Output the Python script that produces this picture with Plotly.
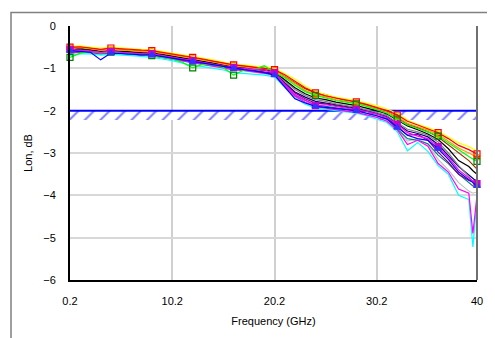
import plotly.graph_objects as go

freq = [0.2, 1.2, 2.2, 3.2, 4.2, 5.2, 6.2, 7.2, 8.2, 9.2, 10.2, 11.2, 12.2, 13.2, 14.2, 15.2,
        16.2, 17.2, 18.2, 19.2, 20.2, 21.2, 22.2, 23.2, 24.2, 25.2, 26.2, 27.2, 28.2, 29.2,
        30.2, 31.2, 32.2, 33.2, 34.2, 35.2, 36.2, 37.2, 38.2, 39.2, 39.6, 40.0]

s_yellow = [-0.48,-0.47,-0.50,-0.52,-0.50,-0.52,-0.54,-0.55,-0.56,-0.60,-0.63,-0.68,-0.72,-0.76,-0.80,-0.85,-0.90,-0.92,-0.95,-0.96,-1.00,-1.12,-1.25,-1.42,-1.55,-1.62,-1.68,-1.72,-1.76,-1.82,-1.88,-1.96,-2.06,-2.22,-2.32,-2.40,-2.48,-2.62,-2.76,-2.85,-2.90,-2.95]
s_red = [-0.50,-0.49,-0.52,-0.55,-0.52,-0.54,-0.56,-0.57,-0.58,-0.62,-0.65,-0.70,-0.74,-0.78,-0.83,-0.87,-0.92,-0.94,-0.97,-0.99,-1.03,-1.15,-1.30,-1.46,-1.58,-1.65,-1.70,-1.74,-1.79,-1.85,-1.92,-2.00,-2.10,-2.25,-2.34,-2.43,-2.52,-2.66,-2.82,-2.92,-2.98,-3.02]
s_orange = [-0.53,-0.51,-0.54,-0.57,-0.55,-0.56,-0.58,-0.60,-0.61,-0.64,-0.68,-0.72,-0.77,-0.80,-0.85,-0.90,-0.94,-0.96,-1.00,-1.01,-1.05,-1.20,-1.36,-1.52,-1.62,-1.68,-1.74,-1.78,-1.82,-1.88,-1.95,-2.03,-2.14,-2.30,-2.38,-2.46,-2.56,-2.72,-2.88,-3.00,-3.05,-3.10]
s_black = [-0.56,-0.53,-0.56,-0.60,-0.58,-0.59,-0.61,-0.63,-0.64,-0.67,-0.71,-0.75,-0.80,-0.83,-0.88,-0.92,-0.97,-0.99,-1.02,-1.04,-1.08,-1.28,-1.46,-1.60,-1.70,-1.74,-1.80,-1.84,-1.88,-1.94,-2.00,-2.08,-2.22,-2.36,-2.45,-2.55,-2.68,-2.90,-3.18,-3.32,-3.42,-3.50]
s_green = [-0.74,-0.64,-0.60,-0.63,-0.62,-0.63,-0.66,-0.68,-0.70,-0.74,-0.78,-0.86,-0.99,-0.90,-0.92,-0.98,-1.16,-1.04,-1.03,-0.94,-1.10,-1.22,-1.40,-1.55,-1.64,-1.70,-1.76,-1.80,-1.84,-1.90,-1.98,-2.06,-2.20,-2.34,-2.42,-2.50,-2.60,-2.76,-2.94,-3.08,-3.14,-3.20]
s_blue = [-0.58,-0.60,-0.62,-0.80,-0.64,-0.65,-0.67,-0.68,-0.68,-0.72,-0.76,-0.80,-0.84,-0.88,-0.92,-0.96,-1.00,-1.03,-1.06,-1.10,-1.16,-1.45,-1.72,-1.82,-1.90,-1.92,-1.95,-1.98,-2.00,-2.06,-2.12,-2.20,-2.40,-2.58,-2.66,-2.70,-2.90,-3.15,-3.45,-3.62,-3.70,-3.78]
s_magenta = [-0.55,-0.58,-0.60,-0.62,-0.60,-0.62,-0.64,-0.66,-0.66,-0.70,-0.74,-0.78,-0.82,-0.86,-0.90,-0.93,-0.98,-1.00,-1.02,-1.04,-1.10,-1.38,-1.62,-1.76,-1.88,-1.86,-1.90,-1.94,-1.97,-2.02,-2.08,-2.16,-2.32,-2.52,-2.60,-2.66,-2.85,-3.10,-3.40,-3.60,-3.66,-3.72]
s_gray = [-0.60,-0.57,-0.59,-0.62,-0.60,-0.61,-0.63,-0.65,-0.66,-0.69,-0.73,-0.77,-0.81,-0.85,-0.89,-0.93,-0.97,-0.99,-1.02,-1.05,-1.09,-1.30,-1.50,-1.64,-1.74,-1.78,-1.84,-1.88,-1.92,-1.98,-2.04,-2.12,-2.28,-2.44,-2.50,-2.58,-2.74,-3.00,-3.30,-3.55,-3.70,-3.85]
s_purple = [-0.62,-0.60,-0.61,-0.64,-0.62,-0.64,-0.66,-0.68,-0.69,-0.72,-0.76,-0.80,-0.84,-0.88,-0.92,-0.96,-1.00,-1.02,-1.05,-1.08,-1.12,-1.36,-1.58,-1.72,-1.82,-1.84,-1.88,-1.92,-1.96,-2.02,-2.08,-2.16,-2.36,-2.58,-2.56,-2.70,-2.98,-3.22,-3.50,-3.65,-3.68,-3.62]
s_darkred = [-0.52,-0.50,-0.53,-0.56,-0.54,-0.56,-0.58,-0.59,-0.60,-0.64,-0.67,-0.71,-0.75,-0.79,-0.83,-0.87,-0.92,-0.95,-0.98,-1.00,-1.04,-1.20,-1.34,-1.48,-1.58,-1.62,-1.70,-1.76,-1.80,-1.87,-1.94,-2.02,-2.16,-2.32,-2.40,-2.50,-2.62,-2.80,-3.00,-3.18,-3.28,-3.38]
s_teal = [-0.64,-0.61,-0.63,-0.66,-0.64,-0.65,-0.67,-0.69,-0.70,-0.73,-0.77,-0.82,-0.86,-0.90,-0.94,-0.98,-1.02,-1.04,-1.07,-1.10,-1.14,-1.40,-1.64,-1.76,-1.86,-1.90,-1.93,-1.96,-2.00,-2.06,-2.12,-2.20,-2.42,-2.66,-2.70,-2.78,-3.05,-3.25,-3.50,-3.70,-3.78,-3.80]
s_silver = [-0.66,-0.62,-0.64,-0.67,-0.65,-0.66,-0.68,-0.70,-0.71,-0.75,-0.79,-0.84,-0.88,-0.92,-0.96,-1.00,-1.04,-1.06,-1.09,-1.12,-1.16,-1.42,-1.66,-1.80,-1.88,-1.92,-1.96,-2.00,-2.03,-2.09,-2.15,-2.24,-2.46,-2.72,-2.66,-2.80,-3.15,-3.40,-3.70,-3.90,-3.95,-3.92]
s_navy = [-0.57,-0.55,-0.58,-0.61,-0.59,-0.60,-0.62,-0.64,-0.65,-0.68,-0.72,-0.76,-0.80,-0.84,-0.88,-0.92,-0.96,-0.98,-1.01,-1.03,-1.08,-1.34,-1.56,-1.68,-1.78,-1.82,-1.86,-1.90,-1.94,-2.00,-2.06,-2.14,-2.30,-2.48,-2.54,-2.62,-2.80,-3.05,-3.32,-3.52,-3.60,-3.68]
s_pink = [-0.63,-0.60,-0.62,-0.65,-0.63,-0.64,-0.66,-0.68,-0.70,-0.74,-0.78,-0.83,-0.87,-0.91,-0.95,-0.99,-1.03,-1.05,-1.08,-1.11,-1.15,-1.42,-1.66,-1.80,-1.90,-1.94,-1.98,-2.01,-2.04,-2.10,-2.16,-2.25,-2.45,-2.80,-2.70,-2.84,-3.25,-3.45,-3.85,-3.95,-4.90,-4.00]
s_cyan = [-0.70,-0.66,-0.66,-0.69,-0.67,-0.68,-0.70,-0.72,-0.74,-0.78,-0.82,-0.88,-0.93,-0.96,-1.00,-1.04,-1.10,-1.12,-1.14,-1.16,-1.20,-1.45,-1.70,-1.85,-1.94,-1.97,-2.00,-2.03,-2.06,-2.12,-2.20,-2.28,-2.50,-2.95,-2.75,-2.96,-3.30,-3.50,-4.00,-4.10,-5.22,-4.10]

marker_idx = [0, 4, 8, 12, 16, 20, 24, 28, 32, 36, 41]

limit_y_top = -2.0
limit_y_bottom = -2.22
limit_x = [0.2, 40.0]

x_ticks = [0.2, 10.2, 20.2, 30.2, 40]
x_tick_text = ["0.2", "10.2", "20.2", "30.2", "40"]
y_ticks = [0, -1, -2, -3, -4, -5, -6]

series = [
    (s_silver, "#c0c0c0", None),
    (s_teal, "#008080", None),
    (s_navy, "#000080", None),
    (s_purple, "#800080", None),
    (s_gray, "#808080", None),
    (s_cyan, "#00ffff", None),
    (s_pink, "#ff00ff", None),
    (s_darkred, "#993300", None),
    (s_black, "#000000", None),
    (s_orange, "#ff9900", ("circle", "#ff9900")),
    (s_yellow, "#ffff00", None),
    (s_red, "#ff0000", ("square-open", "#ff0000")),
    (s_green, "#00ff00", ("square-open", "#008000")),
    (s_magenta, "#ff00ff", ("square", "#cc00cc")),
    (s_blue, "#0000ff", ("triangle-up", "#3333ff")),
]

fig = go.Figure()

# hatched limit band
fig.add_trace(go.Scatter(
    x=[limit_x[0], limit_x[1], limit_x[1], limit_x[0], limit_x[0]],
    y=[limit_y_top, limit_y_top, limit_y_bottom, limit_y_bottom, limit_y_top],
    mode="lines", fill="toself", line=dict(width=0, color="rgba(0,0,0,0)"),
    fillcolor="white",
    fillpattern=dict(shape="/", fgcolor="#0000ff", bgcolor="white", size=11, solidity=0.18),
    showlegend=False, hoverinfo="skip"))
fig.add_trace(go.Scatter(
    x=limit_x, y=[limit_y_top, limit_y_top], mode="lines",
    line=dict(color="#0000ff", width=2), showlegend=False, hoverinfo="skip"))

for ys, col, mk in series:
    fig.add_trace(go.Scatter(x=freq, y=ys, mode="lines",
                             line=dict(color=col, width=1.2), showlegend=False,
                             cliponaxis=True))
    if mk is not None:
        fig.add_trace(go.Scatter(
            x=[freq[i] for i in marker_idx], y=[ys[i] for i in marker_idx],
            mode="markers", showlegend=False, cliponaxis=False,
            marker=dict(symbol=mk[0], size=6, color=mk[1],
                        line=dict(color=mk[1], width=1.2))))

# page has an 8px body margin: the figure sits at (8, 8) in the window
OFF = 8
W, H = 495 - OFF, 338 - OFF
L, R, T, B = 70 - OFF, 18, 26 - OFF, 51
pw, ph = W - L - R, H - T - B

def px(xp):
    return (xp - OFF - L) / pw

def py(yp):
    return 1 - (yp - OFF - T) / ph

shapes = [
    # outer chart border
    dict(type="rect", xref="paper", yref="paper",
         x0=px(11), x1=px(520), y0=py(360), y1=py(12),
         line=dict(color="#808080", width=1.5), layer="below"),
    # right plot edge
    dict(type="line", xref="paper", yref="paper", x0=1, x1=1, y0=0, y1=1,
         line=dict(color="#707070", width=2)),
]

fig.update_layout(
    width=W, height=H,
    margin=dict(l=L, r=R, t=T, b=B),
    paper_bgcolor="white", plot_bgcolor="white",
    font=dict(family="Liberation Sans, Arial, sans-serif", size=11, color="black"),
    shapes=shapes,
    xaxis=dict(range=[0.2, 40], tickvals=x_ticks, ticktext=x_tick_text,
               showgrid=True, gridcolor="#d0d0d0", gridwidth=2,
               showline=True, linecolor="black", linewidth=2,
               ticks="", ticklabelstandoff=10, zeroline=False,
               title=dict(text="Frequency (GHz)", font=dict(size=11), standoff=11)),
    yaxis=dict(range=[-6, 0], tickvals=y_ticks,
               showgrid=True, gridcolor="#d8d8d8", gridwidth=2,
               showline=True, linecolor="black", linewidth=2,
               ticks="", ticklabelstandoff=10, zeroline=False,
               title=dict(text="Lon, dB", font=dict(size=11), standoff=8)),
)

fig.write_html("out.html")
